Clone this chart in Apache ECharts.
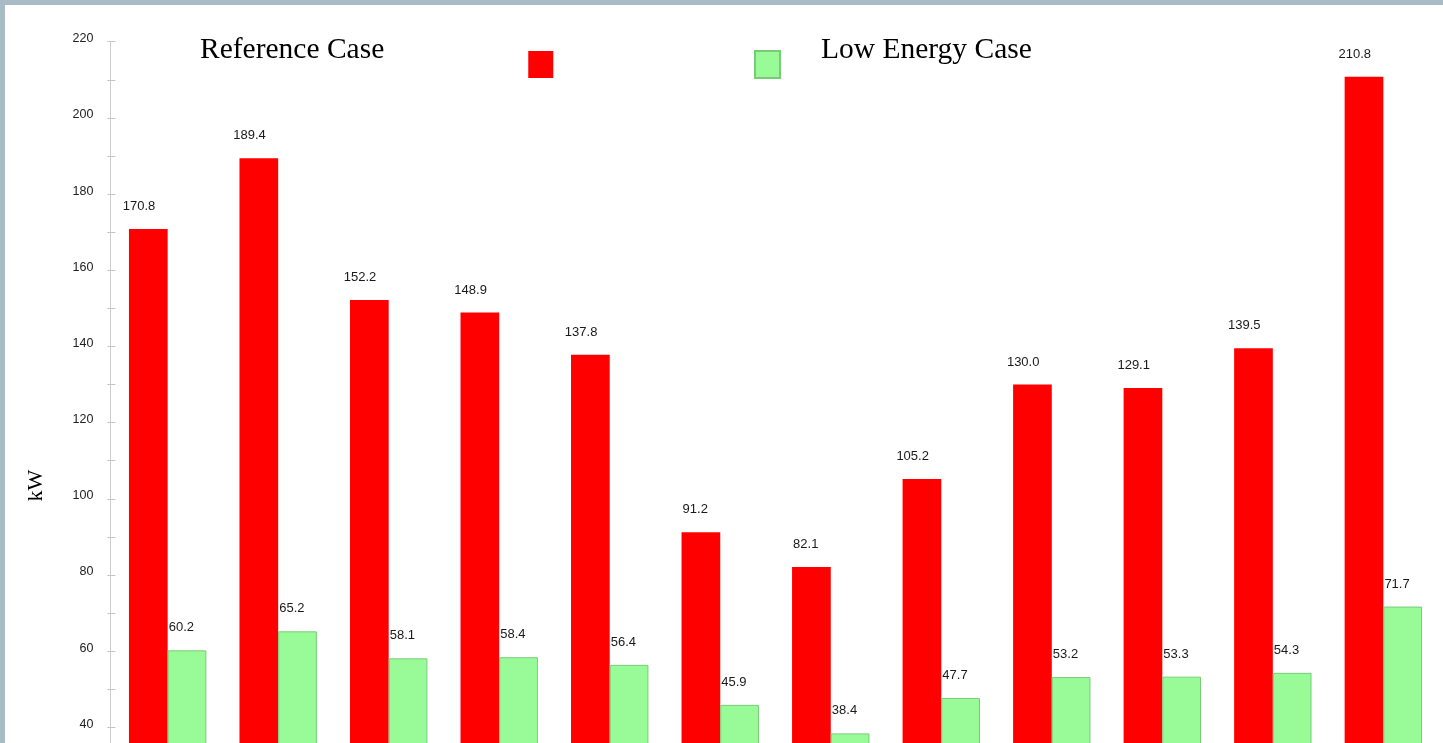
<!DOCTYPE html>
<html>
<head>
<meta charset="utf-8">
<script src="https://cdn.jsdelivr.net/npm/echarts@6/dist/echarts.min.js"></script>
<style>
  html, body { margin: 0; padding: 0; overflow: hidden; background: #a9bcc6; width: 1443px; height: 743px; }
  #chart { position: absolute; left: 5px; top: 5px; width: 1438px; height: 790px; background: #ffffff; }
</style>
</head>
<body>
<div id="chart"></div>
<script>
const categories = ['Jan', 'Feb', 'Mar', 'Apr', 'May', 'Jun', 'Jul', 'Aug', 'Sep', 'Oct', 'Nov', 'Dec'];
const referenceCase = [170.8, 189.4, 152.2, 148.9, 137.8, 91.2, 82.1, 105.2, 130.0, 129.1, 139.5, 210.8];
const lowEnergyCase = [60.2, 65.2, 58.1, 58.4, 56.4, 45.9, 38.4, 47.7, 53.2, 53.3, 54.3, 71.7];
const seriesNames = ['Reference Case', 'Low Energy Case'];
const yAxisName = 'kW';

const chart = echarts.init(document.getElementById('chart'));

const labelCfg = {
  show: true,
  position: 'top',
  distance: 16,
  align: 'right',
  offset: [7, 0],
  fontFamily: 'Liberation Sans, Arial, sans-serif',
  fontSize: 13,
  color: '#1a1a1a',
  formatter: p => Number(p.value).toFixed(1)
};

const yCommon = {
  type: 'value',
  min: 30,
  max: 220,
  interval: 10,
  position: 'left',
  offset: 2,
  splitLine: { show: false }
};

const legendRich = {
  t: { fontFamily: 'Liberation Serif, Times New Roman, serif', fontSize: 29.5, color: '#000', lineHeight: 32 },
  s: { fontSize: 1, lineHeight: 29 }
};

chart.setOption({
  animation: false,
  backgroundColor: '#ffffff',
  legend: [
    {
      data: [seriesNames[0]],
      left: 195,
      top: 30,
      padding: 0,
      align: 'right',
      itemWidth: 25,
      itemHeight: 27,
      icon: 'rect',
      selectedMode: false,
      formatter: name => '{t|' + name + '}\n{s| }',
      textStyle: {
        fontFamily: 'Liberation Serif, Times New Roman, serif',
        fontSize: 29.5,
        color: '#000',
        padding: [0, 139, 0, 0],
        rich: legendRich
      }
    },
    {
      data: [seriesNames[1]],
      left: 749,
      top: 30,
      padding: 0,
      align: 'left',
      itemWidth: 25,
      itemHeight: 27,
      icon: 'rect',
      selectedMode: false,
      formatter: name => '{t|' + name + '}\n{s| }',
      textStyle: {
        fontFamily: 'Liberation Serif, Times New Roman, serif',
        fontSize: 29.5,
        color: '#000',
        padding: [0, 0, 0, 36],
        rich: legendRich
      }
    }
  ],
  grid: { left: 107.4, right: 4.4, top: 36.7, bottom: 29.6, containLabel: false },
  xAxis: {
    type: 'category',
    data: categories,
    axisLine: { show: false },
    axisTick: { show: false },
    axisLabel: { show: false }
  },
  yAxis: [
    Object.assign({}, yCommon, {
      name: yAxisName,
      nameLocation: 'middle',
      nameGap: 63,
      nameRotate: 90,
      nameTextStyle: {
        fontFamily: 'Liberation Serif, Times New Roman, serif',
        fontSize: 22,
        color: '#000',
        padding: [0, 164, 0, 0]
      },
      axisLine: { show: true, lineStyle: { color: '#cccccc', width: 1 } },
      axisTick: { show: true, inside: false, length: 3, lineStyle: { color: '#c4c4c4' } },
      axisLabel: {
        margin: 17,
        fontFamily: 'Liberation Sans, Arial, sans-serif',
        fontSize: 12.5,
        color: '#222',
        formatter: v => (v % 20 === 0 ? '{a|' + v + '}\n{b| }' : ''),
        rich: {
          a: { fontFamily: 'Liberation Sans, Arial, sans-serif', fontSize: 12.5, color: '#222', lineHeight: 15 },
          b: { fontSize: 1, lineHeight: 6 }
        }
      }
    }),
    Object.assign({}, yCommon, {
      axisLine: { show: false },
      axisTick: { show: true, inside: true, length: 5, lineStyle: { color: '#c4c4c4' } },
      axisLabel: { show: false }
    })
  ],
  series: [
    {
      name: seriesNames[0],
      type: 'bar',
      data: referenceCase,
      barWidth: 38.7,
      barGap: '0%',
      itemStyle: { color: '#ff0000' },
      label: labelCfg
    },
    {
      name: seriesNames[1],
      type: 'bar',
      data: lowEnergyCase,
      barWidth: 38.7,
      barGap: '0%',
      itemStyle: { color: '#98fb98', borderColor: '#78cc78', borderWidth: 1 },
      label: labelCfg
    }
  ]
});
</script>
</body>
</html>
